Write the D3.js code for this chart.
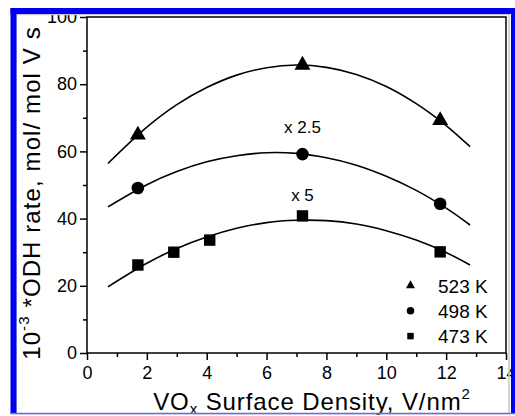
<!DOCTYPE html>
<html>
<head>
<meta charset="utf-8">
<script src="https://cdn.jsdelivr.net/npm/d3@7"></script>
<style>
  html, body { margin: 0; padding: 0; background: #fff; }
  svg { display: block; font-family: "Liberation Sans", Arial, Helvetica, sans-serif; }
</style>
</head>
<body>
<svg id="chart" width="515" height="416"></svg>
<script>
// ---- data ----
const seriesLabels = ["523 K", "498 K", "473 K"];
const x523 = [1.7, 7.2, 11.8];
const y523 = [64.9, 85.7, 69.2];
const x498 = [1.7, 7.2, 11.8];
const y498 = [49.1, 59.2, 44.4];
const x473 = [1.7, 2.9, 4.1, 7.2, 11.8];
const y473 = [26.2, 30.0, 33.6, 40.8, 30.1];
// fitted curves
const fitX   = [0.7, 2, 3, 4, 5, 6, 7, 8, 9, 10, 11, 12, 12.8];
const fit523 = [56.4, 67.2, 73.9, 79.0, 82.7, 84.9, 85.7, 85.0, 82.9, 79.3, 74.2, 67.7, 61.4];
const fit498 = [43.5, 50.1, 54.0, 56.9, 58.7, 59.6, 59.4, 58.1, 55.9, 52.6, 48.4, 43.1, 38.1];
const fit473 = [19.7, 26.7, 31.1, 34.5, 37.1, 38.8, 39.5, 39.4, 38.4, 36.4, 33.6, 29.9, 26.2];
const xTicks = [0, 2, 4, 6, 8, 10, 12, 14];
const yTicks = [0, 20, 40, 60, 80, 100];
const annotations = [{text: "x 2.5", x: 7.2, y: 65.6}, {text: "x 5", x: 7.2, y: 45.2}];

// ---- layout ----
const svg = d3.select("#chart");
const X = d3.scaleLinear().domain([0, 14]).range([87, 506]);
const Y = d3.scaleLinear().domain([0, 100]).range([353, 17]);

const g = svg.append("g");

// plot box
g.append("rect").attr("x", X(0)).attr("y", Y(100))
  .attr("width", X(14) - X(0)).attr("height", Y(0) - Y(100))
  .attr("fill", "none").attr("stroke", "#000").attr("stroke-width", 1.5);

// axes
const xAxis = d3.axisBottom(X).tickValues(xTicks).tickSize(7).tickPadding(6).tickFormat(d3.format("d"));
const xMinor = d3.axisBottom(X).tickValues(d3.range(1, 14, 2)).tickSize(4).tickFormat("");
const yAxis = d3.axisLeft(Y).tickValues(yTicks).tickSize(7).tickPadding(3).tickFormat(d3.format("d"));
const yMinor = d3.axisLeft(Y).tickValues(d3.range(10, 100, 20)).tickSize(4).tickFormat("");

function styleAxis(sel) {
  sel.select(".domain").remove();
  sel.selectAll(".tick line").attr("stroke", "#000").attr("stroke-width", 1.5);
  sel.selectAll(".tick text").attr("fill", "#000").style("font-size", "18px")
     .style("font-family", "'Liberation Sans', Arial, sans-serif");
}
g.append("g").attr("transform", `translate(0,${Y(0)})`).call(xAxis).call(styleAxis);
g.append("g").attr("transform", `translate(0,${Y(0)})`).call(xMinor).call(styleAxis);
g.append("g").attr("transform", `translate(${X(0)},0)`).call(yAxis).call(styleAxis);
g.append("g").attr("transform", `translate(${X(0)},0)`).call(yMinor).call(styleAxis);

// fit curves
const line = d3.line().x(d => X(d[0])).y(d => Y(d[1])).curve(d3.curveCatmullRom);
[fit523, fit498, fit473].forEach(f => {
  g.append("path").datum(fitX.map((x, i) => [x, f[i]]))
    .attr("d", line).attr("fill", "none").attr("stroke", "#000").attr("stroke-width", 1.6);
});

// markers
const triSym = d3.symbol().type(d3.symbolTriangle);
const cirSym = d3.symbol().type(d3.symbolCircle);
const sqSym = d3.symbol().type(d3.symbolSquare);

g.selectAll(".m523").data(x523.map((x, i) => [x, y523[i]])).join("path")
  .attr("class", "m523")
  .attr("d", triSym.size(110)()).attr("transform", d => `translate(${X(d[0])},${Y(d[1])})`).attr("fill", "#000");
g.selectAll(".m498").data(x498.map((x, i) => [x, y498[i]])).join("path")
  .attr("class", "m498")
  .attr("d", cirSym.size(125)()).attr("transform", d => `translate(${X(d[0])},${Y(d[1])})`).attr("fill", "#000");
g.selectAll(".m473").data(x473.map((x, i) => [x, y473[i]])).join("path")
  .attr("class", "m473")
  .attr("d", sqSym.size(130)()).attr("transform", d => `translate(${X(d[0])},${Y(d[1])})`).attr("fill", "#000");

// annotations
annotations.forEach(a => {
  g.append("text").attr("x", X(a.x)).attr("y", Y(a.y)).attr("text-anchor", "middle")
    .style("font-size", "17px").text(a.text);
});

// legend
const legSyms = [triSym.size(36)(), cirSym.size(45)(), sqSym.size(42)()];
seriesLabels.forEach((lab, i) => {
  const cy = 285.5 + i * 25.3;
  g.append("path").attr("d", legSyms[i]).attr("transform", `translate(410.5,${cy})`).attr("fill", "#000");
  g.append("text").attr("x", 438).attr("y", cy + 7).style("font-size", "19px").text(lab);
});

// axis titles
const xt = g.append("text").attr("x", 312).attr("y", 410).attr("text-anchor", "middle")
  .style("font-size", "24px").style("letter-spacing", "0.9px");
xt.append("tspan").text("VO");
xt.append("tspan").attr("dy", 4).style("font-size", "15px").text("x");
xt.append("tspan").attr("dy", -4).text(" Surface Density, V/nm");
xt.append("tspan").attr("dy", -11).style("font-size", "15px").text("2");

const yt = g.append("text").attr("transform", "translate(40,193) rotate(-90)").attr("text-anchor", "middle")
  .style("font-size", "24px").style("letter-spacing", "1.1px");
yt.append("tspan").text("10");
yt.append("tspan").attr("dy", -11).style("font-size", "15px").text("-3");
yt.append("tspan").attr("dy", 11).text(" *ODH rate, mol/ mol V s");

// outer frame
svg.append("rect").attr("x", 16).attr("y", 14.5).attr("width", 493).attr("height", 399)
  .attr("fill", "none").attr("stroke", "#c8c8c8").attr("stroke-width", 1.5);
svg.append("rect").attr("x", 10.5).attr("y", 8).attr("width", 6).attr("height", 406).attr("fill", "#0000ee");
svg.append("rect").attr("x", 10.5).attr("y", 8).attr("width", 505).attr("height", 6).attr("fill", "#0000ee");
svg.append("rect").attr("x", 511).attr("y", 8).attr("width", 5).attr("height", 406).attr("fill", "#0000ee");
svg.append("rect").attr("x", 10.5).attr("y", 412.8).attr("width", 505).attr("height", 1.5).attr("fill", "#6a6af0");
</script>
</body>
</html>
